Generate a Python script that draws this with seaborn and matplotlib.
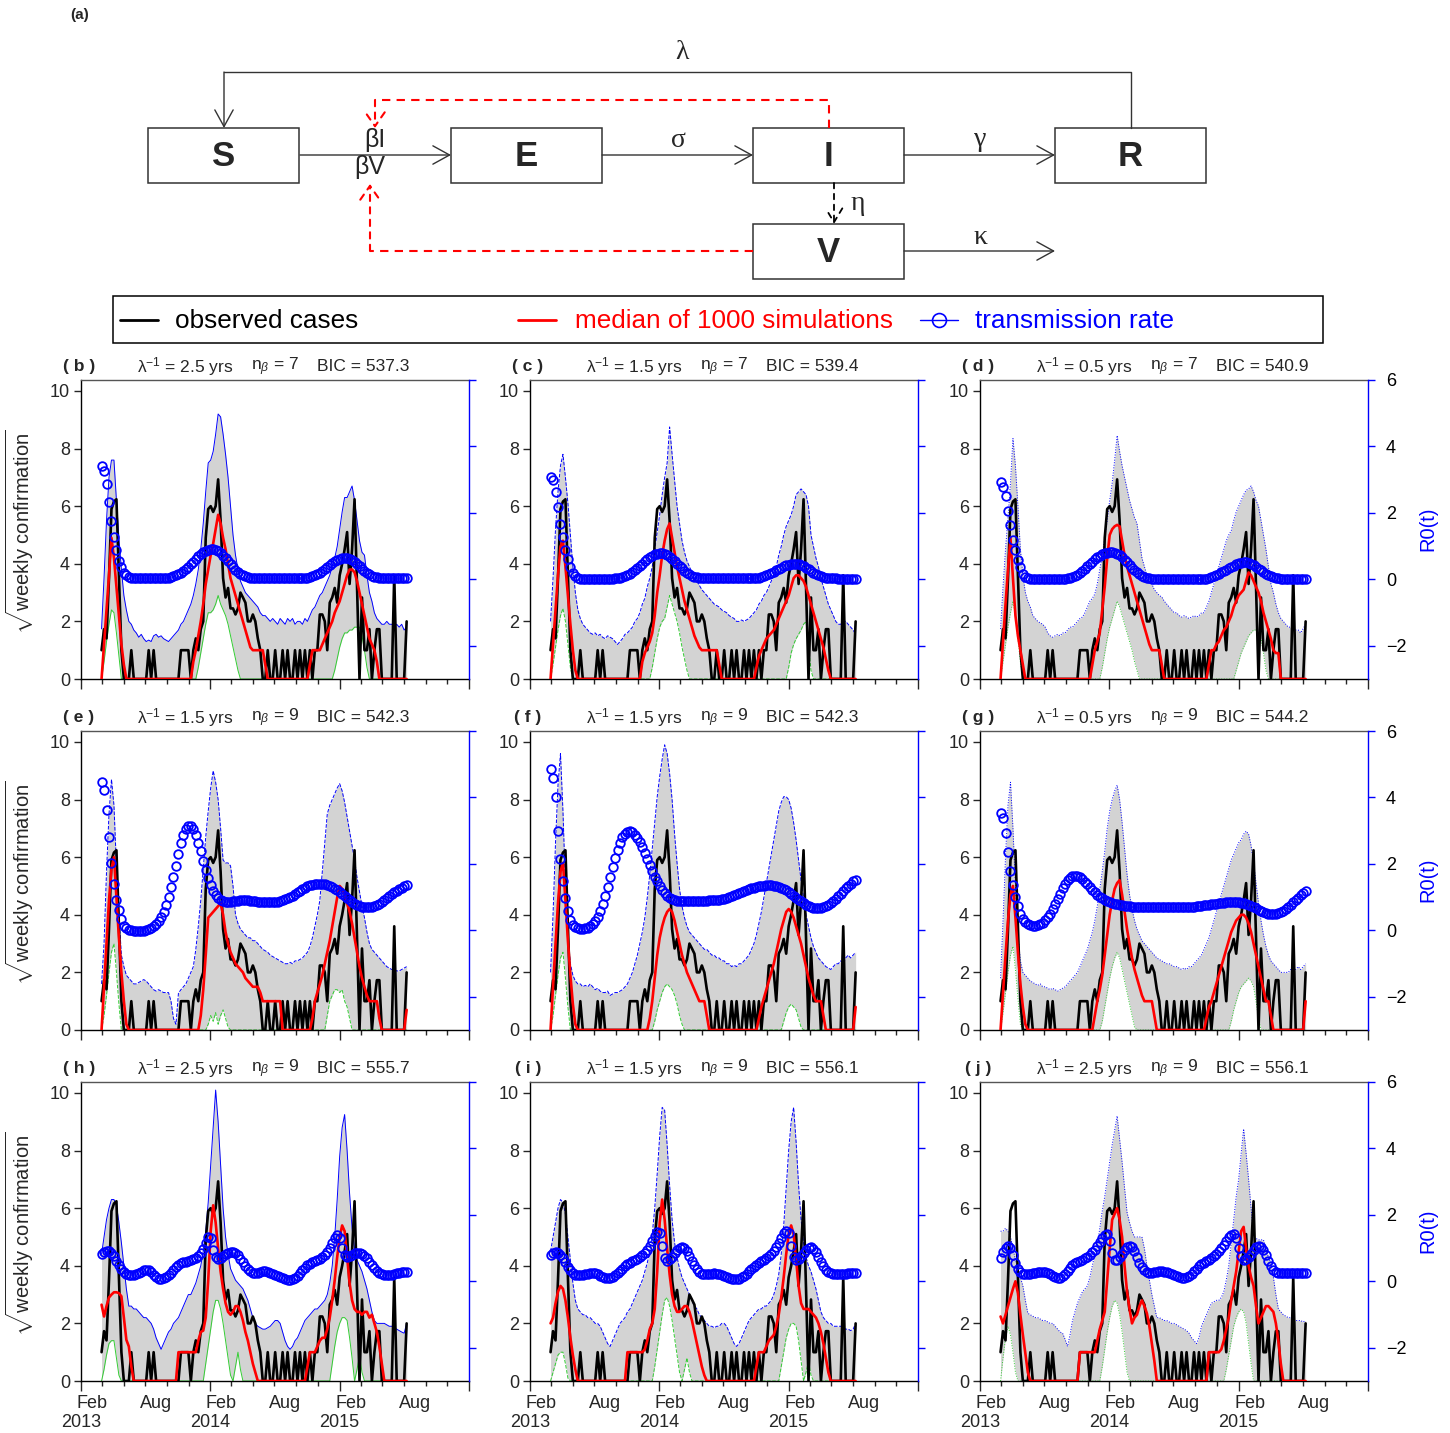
import matplotlib
matplotlib.use("Agg")
import matplotlib.pyplot as plt
import matplotlib.patches as mpatches
from matplotlib.transforms import blended_transform_factory
import pandas as pd
import seaborn as sns

sns.set_theme(style="ticks")
plt.rcParams['font.family'] = ['Liberation Sans', 'DejaVu Sans']
plt.rcParams['mathtext.fontset'] = 'custom'
plt.rcParams['mathtext.rm'] = 'Liberation Sans'
plt.rcParams['mathtext.it'] = 'Liberation Sans:italic'
plt.rcParams['mathtext.bf'] = 'Liberation Sans:bold'
plt.rcParams['axes.unicode_minus'] = True

# ---------------- data ----------------
weeks = pd.date_range('2013-02-28', periods=124, freq='7D')

observed = ([1.0, 1.73, 1.41, 3.5, 5.9, 6.16, 6.24, 3.6, 1.0, 0, 0, 0] +
            [1.0, 0, 0, 0, 0, 0, 0, 1.0, 0, 1.0] + [0] * 10 + [1.0, 1.0, 1.0, 1.0] +
            [0, 1.0, 1.41, 1.0, 1.73, 2.0, 4.9, 5.9, 6.0, 5.8, 6.0, 6.93, 5.5, 3.5, 2.83, 3.16,
             2.45, 2.45, 2.24, 2.45, 3.0, 2.83, 2.65, 2.0, 2.0, 2.24, 2.0, 1.41, 1.0, 0, 0, 1.0] +
            [0, 0, 1, 0, 0, 1, 0, 1, 0, 0, 1, 0, 1, 0, 1, 0, 1, 0, 1, 1] +
            [2.24, 2.24, 2.0, 1.0, 2.65, 2.83, 3.16, 2.65, 3.6, 4.0, 4.5, 5.1, 3.3, 4.5, 6.24, 3.2,
             0, 2.83, 1.0, 1.0, 1.73, 0, 1.0, 1.73, 1.73, 0, 0, 0] +
            [0, 0, 3.6, 0, 0, 0, 0, 2.0])

panel_labels = ['b', 'c', 'd', 'e', 'f', 'g', 'h', 'i', 'j']
lambda_inv_years = ['2.5', '1.5', '0.5', '1.5', '1.5', '0.5', '2.5', '1.5', '2.5']
n_beta = ['7', '7', '7', '9', '9', '9', '9', '9', '9']
bic_values = ['537.3', '539.4', '540.9', '542.3', '542.3', '544.2', '555.7', '556.1', '556.1']

# transmission rate R0(t)
r0_b = ([3.42, 3.27, 2.87, 2.32, 1.77, 1.27, 0.87, 0.56, 0.36, 0.20, 0.12, 0.07] +
        [0.03] * 14 + [0.04, 0.05, 0.07, 0.09, 0.12, 0.16, 0.2, 0.26, 0.32, 0.38] +
        [0.45, 0.53, 0.61, 0.69, 0.76, 0.82, 0.86, 0.89, 0.9, 0.9, 0.88, 0.84, 0.78, 0.71, 0.63,
         0.54, 0.45, 0.37, 0.29, 0.23, 0.17, 0.13, 0.1, 0.07, 0.05] + [0.04] * 7 +
        [0.04] * 15 + [0.05, 0.07, 0.09, 0.12, 0.16] +
        [0.2, 0.25, 0.31, 0.37, 0.43, 0.49, 0.54, 0.58, 0.61, 0.63, 0.64, 0.63, 0.61, 0.57, 0.52,
         0.46, 0.39, 0.32, 0.26, 0.2, 0.15, 0.11, 0.08, 0.06, 0.05] + [0.04] * 3 +
        [0.03] * 8)
r0_c = ([3.09, 2.99, 2.62, 2.17, 1.68, 1.26, 0.88, 0.6, 0.37, 0.2, 0.1, 0.05] +
        [0.02] * 14 + [0.03, 0.04, 0.05, 0.07, 0.1, 0.13, 0.17, 0.22, 0.28, 0.34] +
        [0.4, 0.47, 0.54, 0.6, 0.66, 0.71, 0.75, 0.77, 0.78, 0.78, 0.76, 0.72, 0.67, 0.61, 0.54,
         0.47, 0.4, 0.33, 0.26, 0.2, 0.15, 0.11, 0.08, 0.06, 0.04] + [0.03] * 7 +
        [0.03] * 15 + [0.04, 0.05, 0.07, 0.09, 0.12] +
        [0.15, 0.19, 0.23, 0.27, 0.31, 0.35, 0.39, 0.42, 0.44, 0.46, 0.47, 0.47, 0.45, 0.42, 0.39,
         0.35, 0.3, 0.25, 0.2, 0.16, 0.12, 0.09, 0.07, 0.05, 0.04] + [0.03] * 3 +
        [0.02] * 8)
r0_d = ([2.94, 2.79, 2.52, 2.07, 1.63, 1.19, 0.87, 0.59, 0.37, 0.17, 0.08, 0.04] +
        [0.01] * 14 + [0.02, 0.03, 0.05, 0.07, 0.1, 0.14, 0.19, 0.25, 0.32, 0.39] +
        [0.46, 0.53, 0.6, 0.66, 0.71, 0.75, 0.78, 0.8, 0.82, 0.82, 0.8, 0.77, 0.72, 0.66, 0.59,
         0.51, 0.43, 0.35, 0.28, 0.21, 0.16, 0.11, 0.08, 0.05, 0.03] + [0.02] * 7 +
        [0.01] * 15 + [0.02, 0.04, 0.06, 0.09, 0.13] +
        [0.17, 0.21, 0.25, 0.29, 0.33, 0.37, 0.41, 0.45, 0.48, 0.5, 0.51, 0.51, 0.49, 0.46, 0.42,
         0.37, 0.32, 0.27, 0.22, 0.17, 0.13, 0.09, 0.06, 0.04, 0.03] + [0.02] * 3 +
        [0.01] * 8)
r0_e = ([4.47, 4.22, 3.62, 2.81, 2.04, 1.4, 0.9, 0.6, 0.34, 0.14, 0.06, 0.02] +
        [0.0, -0.01, -0.02, -0.02, -0.02, -0.01, 0.0, 0.03, 0.07, 0.12, 0.19, 0.28, 0.4, 0.55,
         0.75, 1.0, 1.3, 1.62, 1.95, 2.3, 2.62, 2.88, 3.06, 3.15] +
        [3.15, 3.05, 2.87, 2.64, 2.38, 2.1, 1.83, 1.58, 1.36, 1.18, 1.05, 0.96, 0.9, 0.87, 0.85,
         0.85, 0.86, 0.87, 0.88, 0.89, 0.9, 0.9, 0.9, 0.9, 0.89, 0.88, 0.87, 0.86, 0.85, 0.84,
         0.84, 0.84] +
        [0.84, 0.84, 0.85, 0.86, 0.88, 0.9, 0.93, 0.96, 1.0, 1.04, 1.09, 1.14, 1.19, 1.24, 1.28,
         1.32, 1.35, 1.37, 1.39, 1.4] +
        [1.4, 1.4, 1.39, 1.37, 1.34, 1.3, 1.25, 1.2, 1.14, 1.08, 1.02, 0.96, 0.9, 0.85, 0.8,
         0.76, 0.73, 0.71, 0.7, 0.69, 0.69, 0.7, 0.72, 0.75, 0.79, 0.84, 0.9, 0.96] +
        [1.02, 1.08, 1.14, 1.19, 1.24, 1.28, 1.32, 1.35])
r0_f = ([4.85, 4.6, 4.0, 3.0, 2.16, 1.5, 0.96, 0.58, 0.32, 0.16, 0.09, 0.06] +
        [0.05, 0.05, 0.06, 0.08, 0.12, 0.18, 0.27, 0.4, 0.57, 0.78, 1.02, 1.3, 1.6, 1.9, 2.18,
         2.43, 2.64, 2.8, 2.91, 2.97, 2.98, 2.95, 2.88, 2.78] +
        [2.65, 2.5, 2.33, 2.15, 1.97, 1.79, 1.62, 1.47, 1.33, 1.21, 1.11, 1.03, 0.97, 0.93, 0.9,
         0.89, 0.88, 0.88, 0.88, 0.88, 0.88, 0.89, 0.89, 0.89, 0.89, 0.89, 0.89, 0.89, 0.9, 0.9,
         0.9, 0.91] +
        [0.92, 0.93, 0.95, 0.97, 0.99, 1.02, 1.05, 1.08, 1.11, 1.14, 1.17, 1.2, 1.23, 1.26, 1.28,
         1.3, 1.32, 1.33, 1.34, 1.35] +
        [1.35, 1.35, 1.34, 1.33, 1.31, 1.28, 1.24, 1.2, 1.15, 1.1, 1.04, 0.98, 0.92, 0.87, 0.82,
         0.77, 0.73, 0.7, 0.68, 0.67, 0.67, 0.68, 0.7, 0.73, 0.77, 0.82, 0.88, 0.95] +
        [1.02, 1.1, 1.18, 1.26, 1.33, 1.4, 1.47, 1.53])
r0_g = ([3.52, 3.38, 2.93, 2.35, 1.8, 1.35, 0.99, 0.72, 0.5, 0.34, 0.24, 0.18] +
        [0.15, 0.14, 0.14, 0.15, 0.18, 0.23, 0.3, 0.39, 0.5, 0.63, 0.78, 0.94, 1.1, 1.26, 1.4,
         1.51, 1.59, 1.64, 1.65, 1.64, 1.6, 1.54, 1.46, 1.38] +
        [1.3, 1.22, 1.14, 1.07, 1.01, 0.96, 0.92, 0.88, 0.85, 0.82, 0.8, 0.78, 0.76, 0.75, 0.74,
         0.73, 0.72, 0.71, 0.71, 0.7, 0.7, 0.7] + [0.69] * 10 +
        [0.69] * 8 + [0.7, 0.7, 0.71, 0.72, 0.73, 0.74, 0.75, 0.76, 0.77, 0.78, 0.79, 0.8] +
        [0.81, 0.82, 0.83, 0.84, 0.85, 0.85, 0.85, 0.85, 0.84, 0.83, 0.81, 0.79, 0.76, 0.73, 0.7,
         0.66, 0.62, 0.58, 0.55, 0.52, 0.5, 0.49, 0.49, 0.5, 0.52, 0.55, 0.59, 0.64] +
        [0.7, 0.77, 0.84, 0.91, 0.98, 1.05, 1.11, 1.17])
r0_h = ([0.81, 0.88, 0.91, 0.9, 0.85, 0.75, 0.62, 0.48, 0.36, 0.27, 0.21, 0.19] +
        [0.19, 0.2, 0.22, 0.25, 0.29, 0.33, 0.35, 0.33, 0.27, 0.19, 0.12, 0.08, 0.07, 0.09, 0.13,
         0.19, 0.26, 0.34, 0.42, 0.49, 0.54, 0.57, 0.59, 0.61] +
        [0.63, 0.66, 0.7, 0.76, 0.85, 0.98, 1.15, 1.32, 1.3, 0.95, 0.72, 0.68, 0.7, 0.75, 0.81,
         0.86, 0.88, 0.88, 0.85, 0.78, 0.68, 0.57, 0.46, 0.37, 0.3, 0.26, 0.25, 0.26, 0.28, 0.3,
         0.3, 0.28] +
        [0.25, 0.22, 0.19, 0.16, 0.13, 0.1, 0.07, 0.05, 0.05, 0.07, 0.11, 0.17, 0.25, 0.33, 0.41,
         0.48, 0.53, 0.57, 0.6, 0.63] +
        [0.67, 0.72, 0.79, 0.88, 1.0, 1.15, 1.3, 1.4, 1.3, 1.0, 0.8, 0.74, 0.76, 0.8, 0.84,
         0.86, 0.86, 0.83, 0.77, 0.69, 0.59, 0.49, 0.4, 0.32, 0.26, 0.22, 0.2, 0.19] +
        [0.19, 0.2, 0.22, 0.24, 0.26, 0.27, 0.28, 0.28])
r0_i = ([0.78, 0.86, 0.88, 0.86, 0.8, 0.7, 0.57, 0.44, 0.33, 0.25, 0.2, 0.18] +
        [0.18, 0.19, 0.21, 0.23, 0.25, 0.25, 0.24, 0.21, 0.17, 0.13, 0.1, 0.09, 0.1, 0.13, 0.18,
         0.24, 0.31, 0.38, 0.45, 0.51, 0.56, 0.6, 0.64, 0.68] +
        [0.73, 0.79, 0.86, 0.95, 1.06, 1.2, 1.36, 1.5, 1.45, 1.05, 0.7, 0.62, 0.66, 0.74, 0.84,
         0.93, 1.0, 1.02, 0.99, 0.9, 0.77, 0.62, 0.48, 0.36, 0.28, 0.23, 0.21, 0.21, 0.22, 0.23,
         0.24, 0.23] +
        [0.21, 0.18, 0.15, 0.12, 0.09, 0.07, 0.06, 0.06, 0.08, 0.12, 0.17, 0.23, 0.3, 0.37, 0.44,
         0.5, 0.55, 0.6, 0.65, 0.7] +
        [0.76, 0.83, 0.92, 1.03, 1.16, 1.3, 1.44, 1.53, 1.45, 1.05, 0.72, 0.64, 0.68, 0.76, 0.86,
         0.95, 1.01, 1.02, 0.98, 0.88, 0.74, 0.59, 0.45, 0.35, 0.28, 0.24, 0.22, 0.21] +
        [0.21, 0.21, 0.22, 0.23, 0.24, 0.25, 0.25, 0.25])
r0_j = ([0.71, 0.88, 1.0, 1.05, 1.0, 0.8, 0.55, 0.38, 0.28, 0.23, 0.21, 0.21] +
        [0.22, 0.24, 0.26, 0.28, 0.29, 0.29, 0.28, 0.26, 0.22, 0.17, 0.12, 0.1, 0.11, 0.15, 0.22,
         0.31, 0.4, 0.48, 0.55, 0.59, 0.62, 0.65, 0.69, 0.74] +
        [0.8, 0.87, 0.95, 1.05, 1.17, 1.3, 1.4, 1.41, 1.2, 0.85, 0.65, 0.65, 0.72, 0.82, 0.94,
         1.03, 1.06, 1.02, 0.9, 0.72, 0.55, 0.42, 0.33, 0.28, 0.26, 0.26, 0.27, 0.29, 0.3, 0.3,
         0.29, 0.27] +
        [0.24, 0.21, 0.18, 0.15, 0.12, 0.1, 0.1, 0.12, 0.16, 0.22, 0.3, 0.38, 0.45, 0.51, 0.56,
         0.6, 0.64, 0.69, 0.75, 0.82] +
        [0.9, 0.99, 1.1, 1.22, 1.33, 1.4, 1.41, 1.3, 1.0, 0.75, 0.65, 0.66, 0.72, 0.82, 0.93,
         1.02, 1.06, 1.03, 0.93, 0.78, 0.6, 0.45, 0.34, 0.28, 0.25, 0.24, 0.24, 0.24] +
        [0.24, 0.24, 0.25, 0.25, 0.25, 0.25, 0.25, 0.25])

# median of 1000 simulations (sqrt scale)
med_b = ([0, 1.2, 2.4, 3.6, 4.9, 4.2, 3.2, 2.2, 1.2, 0.5, 0, 0] + [0] * 24 +
         [0, 0.6, 1.0, 1.5, 2.0, 2.6, 3.3, 3.8, 4.3, 4.7, 5.2, 5.7, 5.4, 4.9, 4.5, 4.0, 3.5, 3.2,
          2.9, 2.6, 2.3, 2.0, 1.7, 1.4, 1.1, 1.0, 1.0, 1.0, 1.0, 1.0, 0.5, 0] +
         [0] * 16 + [0.5, 1.0, 1.0, 1.0] +
         [1.0, 1.2, 1.4, 1.6, 1.8, 2.0, 2.3, 2.5, 2.7, 3.0, 3.3, 3.6, 3.8, 3.8, 3.7, 3.4, 3.0, 2.6,
          2.2, 1.8, 1.4, 1.2, 1.0, 0.6, 0, 0, 0, 0] + [0] * 8)
med_c = ([0, 1.2, 2.4, 3.6, 4.6, 4.8, 3.9, 2.9, 1.9, 1.0, 0.3, 0] + [0] * 24 +
         [0, 0.6, 0.9, 1.1, 1.3, 1.6, 2.2, 3.0, 3.6, 4.3, 4.8, 5.2, 5.4, 4.9, 4.4, 3.9, 3.5, 3.1,
          2.7, 2.4, 2.1, 1.8, 1.5, 1.3, 1.1, 1.0, 1.0, 1.0, 1.0, 1.0, 1.0, 1.0] +
         [0.5] + [0] * 14 + [0.4, 0.8, 1.0, 1.2, 1.4] +
         [1.5, 1.6, 1.7, 1.9, 2.1, 2.3, 2.5, 2.7, 2.9, 3.2, 3.5, 3.6, 3.6, 3.5, 3.4, 3.2, 2.9, 2.6,
          2.3, 2.0, 1.7, 1.4, 1.1, 0.7, 0.3, 0, 0, 0] + [0] * 8)
med_d = ([0, 1.3, 2.6, 3.8, 4.9, 3.5, 2.2, 1.5, 1.0, 0.5, 0, 0] + [0] * 24 +
         [0, 0.5, 1.0, 1.3, 1.6, 2.4, 3.2, 4.2, 5.0, 5.2, 5.3, 5.35, 5.3, 4.8, 4.3, 3.9, 3.6, 3.3,
          3.0, 2.7, 2.4, 2.1, 1.8, 1.5, 1.2, 1.0, 1.0, 1.0, 1.0, 0.5, 0, 0] +
         [0] * 16 + [0.5, 1.0, 1.0, 1.2] +
         [1.3, 1.5, 1.7, 1.8, 2.0, 2.2, 2.5, 2.7, 2.9, 3.0, 3.1, 3.4, 3.7, 3.6, 3.4, 3.2, 3.0, 2.7,
          2.3, 2.0, 1.7, 1.4, 1.0, 0.9, 0.9, 0, 0, 0] + [0] * 8)
med_e = ([0, 1.5, 3.0, 4.5, 5.6, 6.0, 4.6, 3.2, 2.0, 1.0, 0.2, 0] + [0] * 24 +
         [0, 0, 0, 0, 0.5, 1.4, 2.6, 3.9, 4.0, 4.1, 4.2, 4.3, 4.4, 4.0, 3.4, 3.0, 2.7, 2.5, 2.3,
          2.2, 2.1, 2.0, 1.8, 1.7, 1.6, 1.5, 1.5, 1.5, 1.3, 1.0, 1.0, 1.0] +
         [1.0] * 5 + [0] * 12 + [0.4, 1.0, 1.3] +
         [1.6, 1.9, 2.3, 2.7, 3.1, 3.6, 4.1, 4.6, 5.0, 4.9, 4.7, 4.4, 4.1, 3.7, 3.2, 2.7, 2.2, 1.8,
          1.5, 1.2, 1.0, 1.0, 1.0, 1.0, 0.4, 0, 0, 0] + [0] * 7 + [0.7])
med_f = ([0, 1.5, 3.0, 4.4, 5.5, 5.8, 4.5, 3.1, 1.9, 0.9, 0.2, 0] + [0] * 24 +
         [0, 0, 0, 0, 0.4, 1.0, 1.8, 2.6, 3.2, 3.6, 3.9, 4.1, 4.2, 4.1, 3.8, 3.4, 3.0, 2.6, 2.3,
          2.0, 1.8, 1.6, 1.4, 1.2, 1.0, 1.0, 1.0, 0.5, 0, 0, 0, 0] +
         [0] * 16 + [0.4, 0.8, 1.1, 1.4] +
         [1.7, 2.0, 2.3, 2.7, 3.1, 3.5, 3.8, 4.1, 4.2, 4.1, 3.9, 3.6, 3.3, 3.0, 2.6, 2.2, 1.8, 1.5,
          1.2, 1.0, 1.0, 1.0, 0.5, 0, 0, 0, 0, 0] + [0] * 7 + [0.8])
med_g = ([0, 1.3, 2.6, 3.8, 4.7, 5.0, 3.9, 2.7, 1.6, 0.8, 0.2, 0] + [0] * 24 +
         [0, 0, 0.5, 1.0, 1.4, 1.9, 2.6, 3.3, 4.0, 4.5, 4.9, 5.1, 5.2, 4.7, 4.1, 3.5, 3.0, 2.5,
          2.1, 1.8, 1.5, 1.2, 1.0, 1.0, 1.0, 1.0, 0.5, 0, 0, 0, 0, 0] +
         [0] * 15 + [0.4, 0.8, 1.0, 1.3, 1.6] +
         [1.9, 2.2, 2.5, 2.8, 3.1, 3.4, 3.6, 3.8, 3.9, 4.0, 4.0, 3.9, 3.7, 3.4, 3.0, 2.6, 2.2, 1.8,
          1.4, 1.0, 1.0, 0.5, 0, 0, 0, 0, 0, 0] + [0] * 7 + [1.0])
med_h = ([2.65, 2.24, 2.6, 2.9, 3.0, 3.08, 3.08, 3.05, 2.94, 2.2, 1.43, 1.2] +
         [0.5] + [0] * 18 + [1.0] * 5 +
         [1.0, 1.0, 1.0, 1.4, 1.7, 1.75, 2.2, 3.5, 5.2, 6.1, 5.5, 4.6, 3.8, 3.2, 2.7, 2.4, 2.3, 2.4,
          2.6, 2.6, 2.4, 2.1, 1.7, 1.4, 1.0, 0.6, 0.3, 0, 0, 0, 0, 0] +
         [0] * 15 + [0.5, 1.0, 1.0, 1.0, 1.2] +
         [1.4, 1.5, 1.5, 1.8, 2.2, 2.8, 3.5, 4.3, 5.0, 5.4, 5.2, 4.3, 3.4, 2.8, 2.5, 2.4, 2.4, 2.3,
          2.4, 2.4, 2.2, 2.3, 2.0, 1.7, 1.2, 0.6, 0, 0] + [0] * 8)
med_i = ([2.0, 2.2, 2.7, 3.1, 3.3, 3.2, 2.8, 2.2, 1.5, 0.9, 0.4, 0] +
         [0] * 19 + [1.0] * 5 +
         [1.0, 1.0, 1.1, 1.4, 1.8, 2.0, 2.5, 3.8, 5.5, 6.3, 5.6, 4.6, 3.7, 3.0, 2.6, 2.4, 2.4, 2.5,
          2.6, 2.6, 2.4, 2.1, 1.7, 1.3, 0.9, 0.5, 0.2, 0, 0, 0, 0, 0] +
         [0] * 15 + [0.5, 1.0, 1.0, 1.0, 1.2] +
         [1.4, 1.5, 1.6, 1.9, 2.3, 2.9, 3.6, 4.4, 5.1, 5.4, 5.1, 4.2, 3.3, 2.7, 2.5, 2.5, 2.5, 2.4,
          2.3, 2.2, 2.0, 1.7, 1.3, 0.8, 0.3, 0, 0, 0] + [0] * 8)
med_j = ([2.24, 2.0, 2.3, 2.6, 2.9, 3.2, 3.46, 3.05, 2.3, 1.6, 0.96, 0.3] +
         [0] * 20 + [1.0] * 4 +
         [1.0, 1.0, 1.0, 1.4, 1.8, 2.1, 2.4, 3.5, 4.6, 5.6, 5.8, 6.0, 5.6, 5.0, 4.0, 3.1, 2.5, 2.0,
          2.2, 2.3, 2.6, 2.8, 2.6, 2.35, 1.9, 1.3, 0.7, 0, 0, 0, 0, 0] +
         [0] * 16 + [1.0] * 4 +
         [1.0, 1.1, 1.4, 1.8, 2.2, 2.8, 3.3, 3.8, 4.5, 5.2, 5.35, 4.6, 4.0, 3.6, 3.3, 2.6, 2.0, 2.2,
          2.4, 2.6, 2.6, 2.5, 2.4, 2.0, 1.4, 0.6, 0, 0] + [0] * 8)

# simulation envelope: upper and lower bounds
up_b = ([1.74, 3.5, 5.5, 7.0, 7.6, 7.6, 6.2, 4.9, 3.8, 2.9, 2.4, 2.0] +
        [1.9, 1.7, 1.6, 1.45, 1.55, 1.4, 1.3, 1.35, 1.3, 1.5, 1.55, 1.45, 1.5, 1.4, 1.35, 1.3, 1.4,
         1.5, 1.6, 1.7, 1.9, 2.0, 2.2, 2.4] +
        [2.6, 2.9, 3.3, 3.8, 4.5, 5.4, 6.5, 7.5, 7.6, 7.9, 8.5, 9.2, 9.1, 8.5, 7.8, 7.0, 6.0, 5.0,
         4.3, 3.8, 3.4, 3.2, 3.0, 2.9, 2.8, 2.7, 2.6, 2.5, 2.3, 2.2, 2.2, 2.1] +
        [2.0, 2.1, 2.0, 1.9, 2.1, 2.0, 1.9, 2.1, 2.0, 2.1, 1.9, 2.0, 2.0, 1.9, 2.1, 2.0, 2.2, 2.4,
         2.5, 2.7] +
        [2.9, 3.0, 3.2, 3.4, 3.6, 3.9, 4.2, 4.6, 5.2, 5.8, 6.3, 6.3, 6.5, 6.7, 6.2, 5.5, 4.8, 4.4,
         4.3, 3.6, 3.0, 2.7, 2.3, 2.1, 2.0, 1.9, 1.9, 2.0] +
        [1.9, 1.9, 1.8, 1.9, 1.8, 1.9, 1.7, 1.8])
lo_b = ([0, 0.6, 1.3, 1.9, 2.4, 2.3, 1.6, 0.8, 0, 0, 0, 0] + [0] * 24 +
        [0, 0, 0, 0.4, 0.9, 1.4, 1.9, 2.3, 2.3, 2.4, 2.6, 2.9, 2.6, 2.4, 2.2, 1.9, 1.5, 1.1, 0.7,
         0.3, 0] + [0] * 11 + [0] * 20 +
        [0] * 6 + [0.3, 0.7, 1.1, 1.4, 1.6, 1.6, 1.7, 1.7, 1.8, 1.8, 1.8, 1.5, 1.0, 0.4] + [0] * 8 +
        [0] * 8)
up_c = ([2.0, 3.5, 5.2, 6.5, 7.4, 7.8, 7.0, 6.1, 5.0, 3.9, 3.0, 2.4] +
        [2.1, 1.9, 1.8, 1.7, 1.6, 1.55, 1.6, 1.5, 1.55, 1.45, 1.4, 1.5, 1.45, 1.4, 1.3, 1.2, 1.3,
         1.4, 1.55, 1.6, 1.7, 1.8, 2.0, 2.1] +
        [2.3, 2.6, 2.8, 3.2, 3.5, 3.9, 4.5, 5.1, 5.7, 6.4, 7.0, 7.5, 8.75, 7.8, 6.9, 6.0, 5.4, 4.8,
         4.4, 4.1, 3.9, 3.7, 3.5, 3.4, 3.25, 3.1, 3.0, 2.9, 2.8, 2.7, 2.6, 2.55] +
        [2.5, 2.4, 2.35, 2.3, 2.2, 2.15, 2.1, 2.0, 2.0, 2.05, 2.0, 2.05, 2.1, 2.2, 2.3, 2.4, 2.6,
         2.7, 2.9, 3.0] +
        [3.2, 3.4, 3.6, 3.9, 4.3, 4.6, 5.0, 5.3, 5.5, 5.7, 6.0, 6.4, 6.5, 6.6, 6.5, 6.4, 6.0, 5.0,
         4.6, 4.2, 3.9, 3.5, 3.2, 2.9, 2.6, 2.4, 2.2, 2.0] +
        [1.9, 1.9, 2.0, 2.0, 1.9, 1.8, 1.7, 1.55])
lo_c = ([0, 0.5, 1.1, 1.7, 2.2, 2.45, 2.0, 1.2, 0.4, 0, 0, 0] + [0] * 24 +
        [0, 0, 0, 0, 0, 0.4, 0.9, 1.4, 1.8, 2.0, 2.1, 2.5, 2.9, 2.6, 2.3, 2.0, 1.6, 1.1, 0.7, 0.3,
         0, 0] + [0] * 10 + [0] * 20 +
        [0] * 8 + [0.4, 0.9, 1.2, 1.4, 1.55, 1.7, 1.9, 2.0, 1.2, 0.3, 0, 0] + [0] * 8 + [0] * 8)
up_d = ([1.74, 3.2, 4.5, 5.6, 6.8, 8.35, 7.4, 6.0, 4.5, 3.6, 3.0, 2.7] +
        [2.5, 2.2, 2.1, 2.0, 1.95, 1.9, 1.8, 1.6, 1.5, 1.45, 1.5, 1.55, 1.5, 1.6, 1.6, 1.7, 1.8,
         1.8, 1.9, 2.0, 2.1, 2.15, 2.3, 2.5] +
        [2.7, 2.8, 2.95, 3.3, 3.8, 4.3, 4.9, 5.5, 6.2, 6.8, 7.6, 8.45, 7.9, 7.4, 7.0, 6.6, 6.2,
         5.9, 5.6, 5.4, 4.8, 4.2, 3.9, 3.6, 3.4, 3.3, 3.1, 3.0, 2.9, 2.85, 2.7, 2.6] +
        [2.5, 2.4, 2.3, 2.3, 2.2, 2.15, 2.2, 2.15, 2.1, 2.15, 2.2, 2.15, 2.2, 2.3, 2.3, 2.5, 2.7,
         3.0, 3.3, 3.6] +
        [3.9, 4.2, 4.5, 4.8, 5.0, 5.15, 5.5, 5.8, 6.0, 6.2, 6.4, 6.55, 6.6, 6.7, 6.5, 6.2, 6.0,
         5.5, 5.0, 4.5, 3.9, 3.3, 3.0, 2.6, 2.3, 2.1, 2.0, 1.9] +
        [1.8, 1.8, 1.7, 1.7, 1.7, 1.6, 1.75, 1.9])
lo_d = ([0, 0.6, 1.2, 1.8, 2.3, 2.7, 2.2, 1.4, 0.6, 0, 0, 0] + [0] * 24 +
        [0, 0, 0, 0, 0, 0.4, 0.9, 1.4, 1.8, 2.1, 2.4, 2.7, 2.5, 2.2, 1.9, 1.6, 1.3, 1.0, 0.6, 0.3,
         0, 0] + [0] * 10 + [0] * 20 +
        [0] * 7 + [0.3, 0.6, 0.9, 1.1, 1.3, 1.5, 1.6, 1.7, 1.7, 1.6, 1.4, 0.9, 0.3, 0] + [0] * 7 +
        [0] * 8)
up_e = ([1.6, 3.0, 5.5, 7.5, 8.7, 7.8, 5.7, 4.0, 2.6, 2.2, 1.9, 1.8] +
        [1.7, 1.6, 1.6, 1.65, 1.7, 1.75, 1.7, 1.6, 1.5, 1.4, 1.35, 1.4, 1.35, 1.3, 1.3, 1.3, 1.0,
         0.4, 0.2, 1.28, 1.4, 1.5, 1.6, 1.8] +
        [2.0, 2.2, 2.8, 3.6, 4.5, 5.6, 6.7, 7.6, 8.4, 9.0, 8.6, 8.0, 7.0, 5.9, 5.8, 5.8, 5.7, 5.0,
         4.0, 3.7, 3.5, 3.4, 3.3, 3.2, 3.2, 3.1, 3.1, 3.0, 2.9, 2.8, 2.75, 2.7] +
        [2.6, 2.55, 2.5, 2.45, 2.4, 2.35, 2.3, 2.3, 2.35, 2.3, 2.4, 2.4, 2.45, 2.5, 2.6, 2.7, 2.9,
         3.2, 3.6, 4.0] +
        [4.5, 5.5, 6.5, 7.5, 7.8, 8.0, 8.2, 8.4, 8.55, 8.3, 7.9, 7.4, 6.9, 6.4, 5.9, 5.3, 4.8, 4.3,
         3.9, 3.4, 3.0, 2.8, 2.7, 2.6, 2.5, 2.4, 2.3, 2.2] +
        [2.15, 2.1, 2.1, 2.05, 2.05, 2.1, 2.15, 2.2])
lo_e = ([0, 0.5, 1.2, 2.0, 2.7, 3.0, 2.0, 0.9, 0, 0, 0, 0] + [0] * 24 +
        [0] * 7 + [0.2, 0.5, 0.3, 0.6, 0.2, 0.5, 0.7, 0.4, 0.1] + [0] * 16 + [0] * 20 +
        [0] * 3 + [0.5, 1.0, 1.2, 1.4, 1.4, 1.3, 1.4, 1.0, 0.8, 0.4, 0] + [0] * 14 + [0] * 8)
up_f = ([2.0, 4.0, 6.5, 8.5, 9.6, 7.6, 5.0, 3.2, 2.3, 1.9, 1.7, 1.6] +
        [1.6, 1.5, 1.55, 1.5, 1.6, 1.5, 1.4, 1.45, 1.35, 1.3, 1.3, 1.35, 1.2, 1.25, 1.3, 1.3, 1.35,
         1.4, 1.5, 1.6, 1.8, 2.0, 2.3, 2.6] +
        [3.0, 3.4, 3.9, 4.6, 5.4, 6.3, 7.2, 8.1, 8.8, 9.4, 9.9, 9.6, 8.9, 8.0, 6.8, 5.8, 4.9, 4.3,
         3.9, 3.6, 3.4, 3.3, 3.2, 3.1, 3.0, 2.9, 2.8, 2.8, 2.7, 2.6, 2.6, 2.5] +
        [2.5, 2.4, 2.4, 2.3, 2.3, 2.2, 2.25, 2.2, 2.3, 2.3, 2.4, 2.5, 2.6, 2.8, 3.0, 3.3, 3.7, 4.1,
         4.6, 5.1] +
        [5.6, 6.1, 6.6, 7.1, 7.6, 7.9, 8.1, 8.1, 8.0, 7.7, 7.2, 6.6, 5.9, 5.2, 4.6, 4.0, 3.6, 3.2,
         2.9, 2.7, 2.5, 2.4, 2.3, 2.2, 2.15, 2.1, 2.2, 2.3] +
        [2.3, 2.4, 2.3, 2.5, 2.6, 2.5, 2.6, 2.7])
lo_f = ([0, 0.5, 1.2, 1.9, 2.5, 2.7, 1.8, 0.8, 0, 0, 0, 0] + [0] * 24 +
        [0] * 6 + [0.3, 0.7, 1.0, 1.3, 1.5, 1.6, 1.5, 1.4, 1.2, 0.9, 0.5, 0.2] + [0] * 14 + [0] * 20 +
        [0] * 6 + [0.3, 0.6, 0.8, 0.9, 0.8, 0.7, 0.4, 0.1] + [0] * 14 + [0] * 8)
up_g = ([1.8, 3.8, 6.0, 7.8, 8.6, 7.0, 5.0, 3.3, 2.4, 2.0, 1.9, 1.8] +
        [1.7, 1.65, 1.6, 1.55, 1.6, 1.5, 1.5, 1.45, 1.4, 1.45, 1.4, 1.35, 1.4, 1.45, 1.5, 1.6, 1.7,
         1.8, 1.9, 2.0, 2.2, 2.4, 2.6, 2.8] +
        [3.1, 3.4, 3.8, 4.3, 4.9, 5.5, 6.2, 7.0, 7.6, 8.0, 8.3, 8.5, 8.0, 7.2, 6.3, 5.4, 4.7, 4.2,
         3.8, 3.5, 3.3, 3.1, 3.0, 2.9, 2.8, 2.7, 2.6, 2.5, 2.45, 2.4, 2.35, 2.3] +
        [2.3, 2.25, 2.2, 2.2, 2.15, 2.1, 2.15, 2.1, 2.2, 2.2, 2.3, 2.4, 2.5, 2.6, 2.8, 3.0, 3.2,
         3.5, 3.8, 4.1] +
        [4.4, 4.7, 5.0, 5.3, 5.6, 5.9, 6.1, 6.3, 6.5, 6.6, 6.8, 6.9, 6.8, 6.4, 5.8, 5.1, 4.4, 3.8,
         3.3, 2.9, 2.6, 2.4, 2.3, 2.2, 2.1, 2.0, 2.0, 2.0] +
        [2.0, 2.1, 2.0, 2.1, 2.2, 2.1, 2.2, 2.3])
lo_g = ([0, 0.6, 1.3, 2.0, 2.6, 2.9, 2.1, 1.1, 0.2, 0, 0, 0] + [0] * 24 +
        [0] * 5 + [0.3, 0.8, 1.3, 1.8, 2.2, 2.5, 2.7, 2.5, 2.1, 1.7, 1.3, 0.9, 0.5, 0.1] + [0] * 13 +
        [0] * 20 +
        [0] * 5 + [0.3, 0.7, 1.0, 1.3, 1.5, 1.6, 1.7, 1.8, 1.7, 1.5, 1.0, 0.4] + [0] * 11 + [0] * 8)
up_h = ([4.4, 5.0, 5.6, 6.0, 6.3, 6.3, 6.1, 5.5, 4.8, 4.0, 3.2, 2.6] +
        [2.6, 2.5, 2.5, 2.4, 2.3, 2.2, 2.2, 2.1, 2.0, 1.8, 1.5, 1.3, 1.1, 1.3, 1.5, 1.7, 1.8, 2.0,
         2.1, 2.2, 2.4, 2.6, 2.8, 3.0] +
        [3.0, 3.2, 3.4, 3.7, 4.0, 4.5, 5.2, 6.2, 7.5, 8.8, 10.1, 9.0, 7.5, 6.0, 5.0, 4.4, 3.9, 3.7,
         3.5, 3.4, 3.3, 3.2, 3.0, 2.8, 2.5, 2.2, 2.0, 1.9, 1.85, 1.8, 1.8, 1.85] +
        [1.9, 2.0, 2.1, 2.1, 2.0, 1.7, 1.4, 1.2, 1.1, 1.2, 1.4, 1.5, 1.7, 1.9, 2.1, 2.2, 2.3, 2.4,
         2.5, 2.5] +
        [2.6, 2.7, 2.8, 3.0, 3.4, 4.0, 5.0, 6.3, 7.8, 8.8, 9.25, 8.0, 6.5, 5.3, 4.6, 4.2, 4.0, 3.8,
         3.5, 3.2, 2.8, 2.4, 2.1, 2.0, 2.0, 2.0, 2.0, 1.95] +
        [1.9, 1.9, 1.85, 1.8, 1.75, 1.7, 1.66, 2.0])
lo_h = ([0, 0.4, 0.9, 1.3, 1.4, 1.4, 0.8, 0.2, 0, 0, 0, 0] + [0] * 24 +
        [0] * 6 + [0.6, 1.2, 1.8, 2.4, 2.8, 2.8, 2.5, 2.0, 1.4, 0.8, 0.2, 0, 0.5, 1.0, 0.4, 0] +
        [0] * 10 + [0] * 20 +
        [0] * 5 + [0.6, 1.2, 1.7, 2.0, 2.2, 2.2, 2.1, 1.5, 0.8, 0, 0.4, 0.9, 0.3, 0] + [0] * 9 +
        [0] * 8)
up_i = ([4.5, 5.0, 5.5, 6.0, 6.3, 6.2, 5.8, 5.0, 4.2, 3.4, 2.8, 2.5] +
        [2.4, 2.3, 2.3, 2.2, 2.2, 2.1, 2.0, 2.0, 1.9, 1.7, 1.5, 1.3, 1.2, 1.4, 1.6, 1.8, 2.0, 2.1,
         2.2, 2.4, 2.5, 2.7, 2.9, 3.1] +
        [3.3, 3.5, 3.8, 4.1, 4.5, 5.1, 6.0, 7.2, 8.5, 9.5, 9.4, 8.2, 6.8, 5.6, 4.8, 4.3, 3.9, 3.6,
         3.4, 3.2, 3.0, 2.8, 2.6, 2.5, 2.3, 2.2, 2.1, 2.0, 1.9, 1.9, 1.85, 1.9] +
        [1.9, 2.0, 2.0, 1.9, 1.7, 1.5, 1.3, 1.2, 1.3, 1.5, 1.7, 1.9, 2.1, 2.2, 2.3, 2.4, 2.5, 2.5,
         2.6, 2.6] +
        [2.7, 2.8, 3.0, 3.3, 3.7, 4.4, 5.4, 6.7, 8.0, 9.0, 9.5, 8.3, 6.8, 5.6, 4.8, 4.3, 4.0, 3.8,
         3.5, 3.2, 2.8, 2.4, 2.2, 2.1, 2.0, 2.0, 1.9, 1.9] +
        [1.9, 1.9, 1.85, 1.8, 1.8, 1.75, 1.8, 2.0])
lo_i = ([0, 0.3, 0.6, 0.9, 1.0, 1.0, 0.6, 0.1, 0, 0, 0, 0] + [0] * 24 +
        [0] * 6 + [0.5, 1.1, 1.7, 2.3, 2.8, 2.9, 2.6, 2.1, 1.5, 0.9, 0.3, 0, 0.4, 0.8, 0.3, 0] +
        [0] * 10 + [0] * 20 +
        [0] * 5 + [0.5, 1.0, 1.5, 1.8, 2.0, 2.0, 1.9, 1.4, 0.7, 0, 0.3, 0.7, 0.2, 0] + [0] * 9 +
        [0] * 8)
up_j = ([5.2, 5.2, 5.3, 5.2, 5.0, 4.6, 4.2, 3.9, 3.6, 3.3, 2.8, 2.35] +
        [2.3, 2.25, 2.2, 2.2, 2.15, 2.1, 2.1, 2.05, 2.0, 2.0, 1.9, 1.8, 1.7, 1.66, 1.45, 1.2, 1.6,
         2.1, 2.4, 2.7, 2.9, 3.1, 3.2, 3.3] +
        [3.6, 4.0, 4.4, 4.7, 5.3, 5.9, 6.4, 7.0, 7.6, 8.2, 8.7, 9.2, 8.4, 7.6, 6.7, 5.85, 5.5, 5.2,
         5.0, 5.0, 5.0, 5.0, 4.6, 4.0, 3.5, 3.0, 2.6, 2.2, 2.2, 2.15, 2.1, 2.1] +
        [2.05, 2.0, 2.0, 1.95, 1.9, 1.85, 1.8, 1.75, 1.66, 1.5, 1.4, 1.3, 1.5, 1.9, 2.1, 2.3, 2.5,
         2.7, 2.75, 2.8] +
        [2.8, 2.9, 3.1, 3.5, 4.0, 4.8, 5.6, 6.4, 7.0, 7.9, 8.75, 7.9, 7.0, 6.0, 5.0, 4.95, 4.9,
         4.9, 4.9, 4.6, 4.3, 4.1, 3.6, 3.0, 2.5, 2.4, 2.3, 2.25] +
        [2.2, 2.2, 2.15, 2.1, 2.1, 2.1, 2.05, 2.1])
lo_j = ([0, 0.8, 1.5, 1.9, 1.6, 1.0, 0.3, 0, 0, 0, 0, 0] + [0] * 24 +
        [0] * 5 + [0.5, 1.1, 1.7, 2.2, 2.6, 2.8, 2.7, 2.3, 1.7, 1.0, 0.3, 0] + [0] * 15 + [0] * 20 +
        [0] * 3 + [0.4, 0.9, 1.4, 1.9, 2.2, 2.4, 2.5, 2.4, 2.0, 1.3, 0.6, 0] + [0] * 13 + [0] * 8)

r0_all = [r0_b, r0_c, r0_d, r0_e, r0_f, r0_g, r0_h, r0_i, r0_j]
med_all = [med_b, med_c, med_d, med_e, med_f, med_g, med_h, med_i, med_j]
up_all = [up_b, up_c, up_d, up_e, up_f, up_g, up_h, up_i, up_j]
lo_all = [lo_b, lo_c, lo_d, lo_e, lo_f, lo_g, lo_h, lo_i, lo_j]
band_styles = ['-', '--', ':', '--', '--', ':', '-', '--', ':']

bad = []
for nm, grp in [('r0', r0_all), ('med', med_all), ('up', up_all), ('lo', lo_all)]:
    for p, arr in zip(panel_labels, grp):
        if len(arr) != len(weeks):
            bad.append(f'{nm}_{p}={len(arr)}')
if len(observed) != len(weeks):
    bad.append(f'observed={len(observed)}')
assert not bad, 'length mismatch: ' + ', '.join(bad)

# ---------------- figure ----------------
W, H = 1450, 1433
fig = plt.figure(figsize=(14.5, 14.33), dpi=100)

# overlay in pixel coordinates for the diagram & legend
ov = fig.add_axes([0, 0, 1, 1])
ov.set_xlim(0, W)
ov.set_ylim(H, 0)
ov.axis('off')
ov.patch.set_alpha(0)

edge = '#333333'
ov.text(80, 15, '(a)', fontsize=11, fontweight='bold', ha='center', va='center')
boxes = {'S': (148, 128), 'E': (451, 128), 'I': (753, 128), 'R': (1055, 128), 'V': (753, 224)}
for name, (bx, by) in boxes.items():
    ov.add_patch(mpatches.Rectangle((bx, by), 151, 55, fill=False, ec=edge, lw=1.1))
    ov.text(bx + 75.5, by + 28, name, fontsize=25, fontweight='bold', ha='center', va='center')


def arrow(p0, p1, color=edge, ls='-', lw=1.0, hl=0.6, hw=0.33):
    ov.annotate('', xy=p1, xytext=p0, xycoords='data', textcoords='data',
                arrowprops=dict(arrowstyle=f'->,head_length={hl},head_width={hw}', color=color,
                                lw=lw, linestyle=ls, shrinkA=0, shrinkB=0, mutation_scale=20))


arrow((300, 155), (451, 155))
arrow((602, 155), (753, 155))
arrow((904, 155), (1055, 155))
arrow((904, 251), (1055, 251))
ov.plot([1131, 1131, 224], [128, 72, 72], color=edge, lw=1.0)
arrow((224, 72), (224, 128))
red_dash = (0, (4, 3))
ov.plot([829, 829, 375], [128, 100, 100], color='red', lw=1.5, linestyle=red_dash)
arrow((375, 100), (375, 128), color='red', ls=(0, (3, 3)), lw=1.5, hl=0.5, hw=0.35)
ov.plot([753, 370], [251, 251], color='red', lw=1.5, linestyle=red_dash)
arrow((370, 251), (370, 184), color='red', ls=(0, (3, 3)), lw=1.5, hl=0.5, hw=0.35)
arrow((834, 183), (834, 224), color='black', ls=(0, (3, 3)), lw=1.3, hl=0.5, hw=0.3)

serif = ['Liberation Serif', 'DejaVu Serif']
ov.text(682, 52, 'λ', fontsize=20, family=serif, ha='center', va='center')
ov.text(678, 140, 'σ', fontsize=20, family=serif, ha='center', va='center')
ov.text(980, 139, 'γ', fontsize=20, family=serif, ha='center', va='center')
ov.text(980, 237, 'κ', fontsize=20, family=serif, ha='center', va='center')
ov.text(858, 203, 'η', fontsize=20, family=serif, ha='center', va='center')
ov.text(375, 140, 'βI', fontsize=18, ha='center', va='center')
ov.text(370, 167, 'βV', fontsize=18, ha='center', va='center')

# legend box
ov.add_patch(mpatches.Rectangle((113, 296), 1210, 47, fill=False, ec='black', lw=1.1))
ov.plot([120, 158], [320, 320], color='black', lw=2)
ov.text(175, 321, 'observed cases', fontsize=18.8, ha='left', va='center', color='black')
ov.plot([518, 556], [320, 320], color='red', lw=2)
ov.text(575, 321, 'median of 1000 simulations', fontsize=18.8, ha='left', va='center', color='red')
ov.plot([920, 958], [320, 320], color='blue', lw=1)
ov.plot([939], [320], marker='o', ms=10, mfc='none', mec='blue', mew=1.2)
ov.text(975, 321, 'transmission rate', fontsize=18.8, ha='left', va='center', color='blue')

# panel geometry
col_left = [81, 530, 980]
row_top = [380, 731, 1082]
pw, ph = 388, 299

years = [pd.Timestamp(f'{y}-01-01') for y in (2013, 2014, 2015, 2016)]
minor_months = [pd.Timestamp(f'{y}-{m:02d}-01') for y in (2013, 2014, 2015) for m in (3, 5, 7, 9, 11)]
month_labels = [(pd.Timestamp(f'{y}-{m:02d}-01'), t) for y in (2013, 2014, 2015)
                for m, t in ((2, 'Feb'), (8, 'Aug'))]

for idx, p in enumerate(panel_labels):
    r, c = divmod(idx, 3)
    ax = fig.add_axes([col_left[c] / W, 1 - (row_top[r] + ph) / H, pw / W, ph / H])
    up, lo, med, r0 = up_all[idx], lo_all[idx], med_all[idx], r0_all[idx]
    ax.fill_between(weeks, lo, up, color='#d3d3d3', lw=0, zorder=1)
    sns.lineplot(x=weeks, y=up, ax=ax, color='blue', lw=0.7, linestyle=band_styles[idx], zorder=2)
    sns.lineplot(x=weeks, y=lo, ax=ax, color='#33cc33', lw=0.7, linestyle=band_styles[idx], zorder=2)
    sns.lineplot(x=weeks, y=observed, ax=ax, color='black', lw=1.9, zorder=3)
    sns.lineplot(x=weeks, y=med, ax=ax, color='red', lw=1.9, zorder=4)

    ax.set_xlim(years[0], years[-1])
    ax.set_ylim(0, 10.38)
    ax.set_yticks([0, 2, 4, 6, 8, 10])
    ax.set_yticklabels(['0', '2', '4', '6', '8', '10'])
    ax.set_xticks(years)
    ax.set_xticks(minor_months, minor=True)
    ax.set_xticklabels([])
    ax.tick_params(axis='y', length=5, width=1, labelsize=13, pad=3, direction='out')
    ax.tick_params(axis='x', which='major', length=7, width=1, direction='out')
    ax.tick_params(axis='x', which='minor', length=3.5, width=1, direction='out')
    ax.set_xlabel('')
    ax.set_ylabel('')
    ax.grid(False)
    for s in ('left', 'bottom', 'top'):
        ax.spines[s].set_color('black')
        ax.spines[s].set_linewidth(1)
    ax.spines['top'].set_color('#555555')
    ax.spines['right'].set_visible(False)

    ax2 = ax.twinx()
    sns.lineplot(x=weeks, y=r0, ax=ax2, marker='o', linestyle='none', ms=6.2,
                 mfc='none', mec='blue', mew=1.3, color='blue', zorder=5)
    ax2.set_ylim(-3, 6)
    ax2.set_yticks([-2, 0, 2, 4, 6])
    ax2.set_ylabel('')
    ax2.set_xlim(years[0], years[-1])
    for s in ('left', 'bottom', 'top'):
        ax2.spines[s].set_visible(False)
    ax2.spines['right'].set_color('blue')
    ax2.spines['right'].set_linewidth(1)
    ax2.tick_params(axis='y', colors='blue', length=5, width=1, direction='out', labelsize=13, pad=8)
    if c == 2:
        ax2.set_yticklabels(['\u22122', '0', '2', '4', '6'])
        for tl in ax2.get_yticklabels():
            tl.set_color('black')
    else:
        ax2.tick_params(axis='y', labelright=False)

    # panel titles
    ax.text(-0.005, 1.044, f'( {p} )', transform=ax.transAxes, fontsize=12.5, fontweight='bold',
            ha='center', va='center')
    ax.text(0.268, 1.046, 'λ$^{-1}$ = ' + lambda_inv_years[idx] + ' yrs', transform=ax.transAxes,
            fontsize=12.5, ha='center', va='center')
    ax.text(0.50, 1.046, 'n$_{β}$ = ' + n_beta[idx], transform=ax.transAxes,
            fontsize=12.5, ha='center', va='center')
    ax.text(0.727, 1.044, 'BIC = ' + bic_values[idx], transform=ax.transAxes,
            fontsize=12.5, ha='center', va='center')

    if r == 2:
        tr = blended_transform_factory(ax.transData, ax.transAxes)
        for d, t in month_labels:
            ax.text(d, -0.074, t, transform=tr, fontsize=13, ha='center', va='center')
        for y in (2013, 2014, 2015):
            ax.text(pd.Timestamp(f'{y}-01-01'), -0.14, str(y), transform=tr, fontsize=13,
                    ha='center', va='center')

for r in range(3):
    yc = row_top[r] + ph / 2 + 2
    fig.text(20 / W, 1 - yc / H, r'$\sqrt{\mathrm{weekly\ confirmation}}$', rotation=90,
             fontsize=14.5, ha='center', va='center')
    fig.text(1428 / W, 1 - (row_top[r] + 149) / H, 'R0(t)', rotation=90, color='blue',
             fontsize=14.5, ha='center', va='center')

fig.savefig('out.png', dpi=100)
